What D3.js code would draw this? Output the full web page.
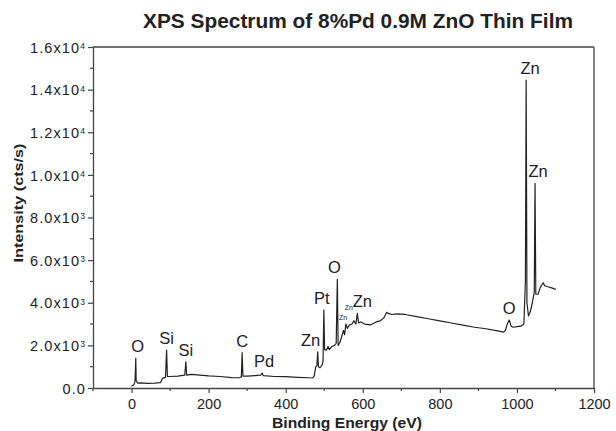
<!DOCTYPE html>
<html>
<head>
<meta charset="utf-8">
<script src="https://cdn.jsdelivr.net/npm/d3@7"></script>
<style>
  html, body { margin: 0; padding: 0; background: #fff; }
  svg { display: block; font-family: "Liberation Sans", Arial, sans-serif; }
</style>
</head>
<body>
<svg id="chart" width="616" height="431"></svg>
<script>
// Survey spectrum: binding energy (eV) and intensity (cts/s)
const energy = [
  0, 6, 9, 11, 12, 16, 25, 40, 60, 75, 80, 88, 91, 93, 100, 120, 138, 141, 143, 155,
  170, 200, 230, 260, 280, 285, 287, 289, 300, 320, 335, 339, 342, 370, 400, 430, 460, 470, 474, 478,
  481, 483, 485, 489, 495, 497, 499, 501, 506, 510, 513, 520, 527, 531, 534, 536, 540, 545, 550, 553,
  556, 560, 565, 572, 577, 582, 586, 589, 595, 605, 620, 635, 645, 655, 662, 666, 675, 690, 710, 740,
  770, 800, 830, 860, 890, 920, 950, 965, 970, 975, 980, 985, 990, 1000, 1010, 1018, 1022, 1024, 1026, 1030,
  1035, 1040, 1045, 1047, 1049, 1055, 1060, 1068, 1072, 1080, 1090, 1101
];
const intensity = [
  80, 150, 300, 1400, 350, 230, 240, 220, 230, 250, 450, 500, 1780, 550, 540, 560, 600, 1230, 600, 640,
  620, 570, 540, 490, 480, 520, 1660, 560, 560, 580, 600, 700, 580, 540, 530, 500, 480, 470, 560, 1000,
  1050, 1700, 1000, 950, 1100, 1300, 3660, 1800, 1780, 1950, 1800, 1950, 2000, 2100, 5100, 2000, 2100, 2400, 2700, 2500,
  3000, 2800, 2950, 3000, 3150, 3000, 3500, 3050, 3100, 3000, 2960, 3100, 3150, 3300, 3550, 3500, 3450, 3480, 3450, 3350,
  3250, 3150, 3050, 2950, 2850, 2780, 2680, 2620, 2700, 3000, 3190, 2900, 2850, 2880, 2900, 3000, 5000, 14450, 4000, 3380,
  3600, 4000, 4500, 9600, 4400, 4400, 4700, 4940, 4800, 4750, 4700, 4630
];

// Peak assignments (element and peak energy)
const peakNames = ["O", "Si", "Si", "C", "Pd", "Zn", "Pt", "O", "Zn", "O", "Zn", "Zn"];
const peakEnergy = [11, 91, 141, 287, 339, 483, 499, 534, 586, 980, 1024, 1047];
// Minor Zn features beside the O 1s line
const minorNames = ["Zn", "Zn"];
const minorEnergy = [564, 549];
const minorLevel = [3470, 3000];

// Axis ticks
const xTicks = [0, 200, 400, 600, 800, 1000, 1200];
const xMinor = [-100, 100, 300, 500, 700, 900, 1100];
const yTicks = [0, 2000, 4000, 6000, 8000, 10000, 12000, 14000, 16000];
const yMantissa = ["0.0", "2.0", "4.0", "6.0", "8.0", "1.0", "1.2", "1.4", "1.6"];
const yExponent = ["", "3", "3", "3", "3", "4", "4", "4", "4"];
const yMinor = [1000, 3000, 5000, 7000, 9000, 11000, 13000, 15000];

const titleText = "XPS Spectrum of 8%Pd 0.9M ZnO Thin Film";
const xTitle = "Binding Energy (eV)";
const yTitle = "Intensity (cts/s)";

const svg = d3.select("#chart");
const margin = { left: 93, right: 22, top: 47, bottom: 43 };
const W = 616, H = 431;
const x = d3.scaleLinear().domain([-100, 1200]).range([margin.left, W - margin.right]);
const y = d3.scaleLinear().domain([0, 16000]).range([H - margin.bottom, margin.top]);

const ink = "#222";
const axisColor = "#444";

// Title
svg.append("text")
  .attr("x", 358).attr("y", 28)
  .attr("text-anchor", "middle")
  .attr("font-size", 20).attr("font-weight", "bold")
  .attr("textLength", 430).attr("lengthAdjust", "spacingAndGlyphs")
  .attr("fill", ink)
  .text(titleText);

// Spectrum line
const pts = energy.map((e, i) => [e, intensity[i]]);
svg.append("path")
  .datum(pts)
  .attr("fill", "none")
  .attr("stroke", ink)
  .attr("stroke-width", 1.2)
  .attr("stroke-linejoin", "round")
  .attr("d", d3.line().x(d => x(d[0])).y(d => y(d[1])));

// Bottom axis
const xAxis = svg.append("g")
  .attr("transform", `translate(0,${y(0)})`)
  .call(d3.axisBottom(x).tickValues(xTicks).tickSize(5).tickSizeOuter(0).tickFormat(d3.format("d")));
xAxis.append("g").selectAll("line").data(xMinor).join("line")
  .attr("x1", d => x(d)).attr("x2", d => x(d)).attr("y1", 0).attr("y2", 3);

// Left axis
const yAxis = svg.append("g")
  .attr("transform", `translate(${x(-100)},0)`)
  .call(d3.axisLeft(y).tickValues(yTicks).tickSize(5).tickSizeOuter(0).tickFormat(""));
yAxis.append("g").selectAll("line").data(yMinor).join("line")
  .attr("y1", d => y(d)).attr("y2", d => y(d)).attr("x1", 0).attr("x2", -3);

[xAxis, yAxis].forEach(g => {
  g.select(".domain").attr("stroke", axisColor).attr("stroke-width", 1.3);
  g.selectAll("line").attr("stroke", axisColor).attr("stroke-width", 1.2);
  g.selectAll("text").attr("font-size", 14.5).attr("fill", ink)
    .attr("font-family", "'Liberation Sans', Arial, sans-serif");
});
xAxis.selectAll(".tick text").attr("dy", "0.9em");

// Y tick labels in scientific notation with superscript exponents
const yLab = yAxis.selectAll(".tick").append("text")
  .attr("x", -7).attr("dy", "0.36em")
  .attr("text-anchor", "end")
  .attr("font-size", 14.5).attr("fill", ink).attr("letter-spacing", 1.1);
yLab.each(function(d, i) {
  const t = d3.select(this);
  if (yExponent[i] === "") {
    t.text(yMantissa[i]);
  } else {
    t.append("tspan").text(yMantissa[i] + "x10");
    t.append("tspan").attr("dy", "-0.45em").attr("font-size", 8.5).text(yExponent[i]);
  }
});

// Top and right frame
svg.append("line")
  .attr("x1", x(-100)).attr("x2", x(1200)).attr("y1", y(16000)).attr("y2", y(16000))
  .attr("stroke", axisColor).attr("stroke-width", 1.3);
svg.append("line")
  .attr("x1", x(1200)).attr("x2", x(1200)).attr("y1", y(16000)).attr("y2", y(0))
  .attr("stroke", axisColor).attr("stroke-width", 1.3);

// Axis titles
svg.append("text")
  .attr("x", 347).attr("y", 428)
  .attr("text-anchor", "middle")
  .attr("font-size", 14.5).attr("font-weight", "bold")
  .attr("textLength", 150).attr("lengthAdjust", "spacingAndGlyphs")
  .attr("fill", ink)
  .text(xTitle);
svg.append("text")
  .attr("transform", "translate(23,203) rotate(-90)")
  .attr("text-anchor", "middle")
  .attr("font-size", 13.5).attr("font-weight", "bold")
  .attr("textLength", 119).attr("lengthAdjust", "spacingAndGlyphs")
  .attr("fill", ink)
  .text(yTitle);

// Peak labels, placed just above each peak maximum
const peakTop = e => intensity[energy.indexOf(e)];
const nudge = [2, 0, 0, 0, 2, -7, -2, -3, 5, 0, 4, 3];
svg.append("g").selectAll("text").data(peakNames).join("text")
  .attr("x", (d, i) => x(peakEnergy[i]) + nudge[i])
  .attr("y", (d, i) => y(peakTop(peakEnergy[i])) - 6)
  .attr("text-anchor", "middle")
  .attr("font-size", 16.5).attr("fill", ink)
  .text(d => d);

svg.append("g").selectAll("text").data(minorNames).join("text")
  .attr("x", (d, i) => x(minorEnergy[i]))
  .attr("y", (d, i) => y(minorLevel[i]) - 4)
  .attr("text-anchor", "middle")
  .attr("font-size", 7).attr("fill", ink)
  .text(d => d);
</script>
</body>
</html>
